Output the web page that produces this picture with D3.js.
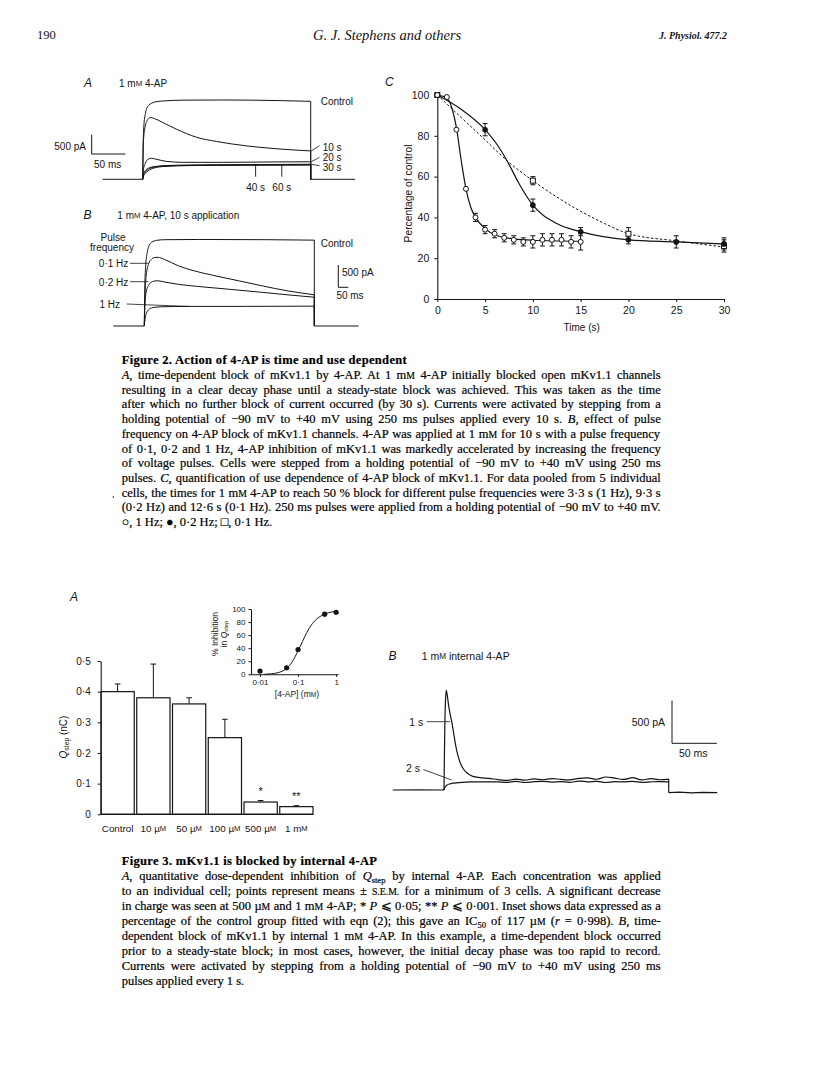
<!DOCTYPE html>
<html><head><meta charset="utf-8">
<script src="https://cdn.jsdelivr.net/npm/d3@7"></script>
<style>body{margin:0;background:#fff}svg{display:block}</style>
</head><body>
<svg id="page" width="816" height="1088"></svg>
<script>
// ================= DATA =================
// Fig 2A current traces: [time (ms from step onset), current (pA)]
const fig2A_control = [[0,0],[0.8,1000],[2,1450],[4,1700],[6,1840],[9,1920],[13,1970],[20,2010],[31,2030],[60,2050],[120,2055],[200,2040],[250,2020]];
const fig2A_10s = [[0,0],[1,950],[3,1300],[6,1500],[9,1580],[12,1600],[18,1570],[30,1470],[50,1300],[80,1090],[110,980],[155,865],[200,790],[250,735]];
const fig2A_20s = [[0,0],[1,250],[4,420],[8,520],[13,545],[20,520],[35,465],[60,440],[120,440],[200,450],[250,455]];
const fig2A_30s = [[0,0],[1,120],[4,230],[10,300],[20,335],[40,360],[100,375],[200,385],[250,390]];
const fig2A_40s = [[0,0],[1,100],[5,210],[12,290],[25,335],[60,360],[150,370],[250,375]];
const fig2A_60s = [[0,0],[1,80],[6,190],[15,280],[30,330],[70,355],[150,365],[250,370]];
const fig2A_labels = ["Control","10 s","20 s","30 s","40 s","60 s"];

// Fig 2B current traces
const fig2B_control = [[0,0],[0.8,900],[2,1350],[4,1620],[7,1800],[11,1880],[18,1920],[30,1935],[80,1940],[180,1935],[250,1925]];
const fig2B_01Hz = [[0,0],[1,700],[3,1150],[6,1380],[10,1490],[15,1535],[20,1540],[30,1490],[50,1350],[75,1230],[100,1140],[140,1010],[175,895],[210,790],[250,700]];
const fig2B_02Hz = [[0,0],[1,500],[3,780],[7,930],[12,995],[19,1015],[30,985],[50,935],[80,885],[120,830],[170,760],[210,700],[250,645]];
const fig2B_1Hz = [[0,0],[1,150],[3,280],[6,360],[12,410],[25,430],[60,440],[150,440],[250,445]];
const fig2B_labels = ["0·1 Hz","0·2 Hz","1 Hz"];

// Fig 2C: percentage of control vs time (s)
const fig2C_time1Hz = [0,1,2,3,4,5,6,7,8,9,10,11,12,13,14,15];
const fig2C_pct1Hz  = [100,99,83,54,40,34,32,30,29,28,28,29,29,29,28,28];
const fig2C_err1Hz  = [0,0,0,0,2,2,2,2,2,2,3,3,3,3,3,4];
const fig2C_time02Hz = [0,5,10,15,20,25,30];
const fig2C_pct02Hz  = [100,83,46,33,29,28,27];
const fig2C_err02Hz  = [0,3,3,2,2,3,3];
const fig2C_time01Hz = [0,10,20,30];
const fig2C_pct01Hz  = [100,58,32,26];
const fig2C_err01Hz  = [0,2,3,3];
// fitted curves: [time, %]
const fig2C_fit1Hz  = [[0,100],[1,98.5],[1.5,94],[2,84],[2.5,68],[3,54],[3.5,45],[4,40],[5,34.5],[6,31.5],[8,29.5],[10,28.8],[15,28.3]];
const fig2C_fit02Hz = [[0,100],[2.5,93],[5,83],[6.5,74],[7.5,66],[8.5,57],[10,46],[12.5,37],[15,33],[20,29],[25,28],[30,27]];
const fig2C_fit01Hz = [[0,100],[2.5,89],[5,78],[7.5,67],[10,58],[12.5,50],[15,43],[17.5,37],[20,32],[25,28.5],[30,25.5]];
const fig2C_xTicks = [0,5,10,15,20,25,30];
const fig2C_yTicks = [0,20,40,60,80,100];

// Fig 3A: Qstep (nC) by internal 4-AP concentration
const fig3A_categories = ["Control","10 µ{M}","50 µ{M}","100 µ{M}","500 µ{M}","1 m{M}"];
const fig3A_qstep = [0.40,0.38,0.36,0.25,0.04,0.025];
const fig3A_sem   = [0.025,0.11,0.02,0.06,0.005,0.003];
const fig3A_signif = ["","","","","*","**"];
const fig3A_yTicks = [0,0.1,0.2,0.3,0.4,0.5];
// Inset: % inhibition vs [4-AP] (mM)
const fig3Inset_conc = [0.01,0.05,0.1,0.5,1];
const fig3Inset_inhib = [5,10,38,92,95];
const fig3Inset_fit = [[0.013,0],[0.02,0.8],[0.03,2.5],[0.05,9],[0.07,19],[0.1,36],[0.13,50],[0.17,64],[0.22,75],[0.3,84],[0.45,91],[0.7,95],[1,96.5]];
const fig3Inset_xTicks = [0.01,0.1,1];
const fig3Inset_yTicks = [0,20,40,60,80,100];

// Fig 3B: currents with 1 mM internal 4-AP
const fig3B_1s_early = [[0,0],[0.6,500],[1.5,1000],[2.5,1170],[3.5,1120],[5,1000],[7,880],[8.6,800],[11,650],[14,470],[18,320],[22,240],[26,195],[32,160],[40,145],[50,135]];
const fig3B_2s_early = [[0,0],[1,30],[3,55],[6,70],[10,80],[20,90],[30,95],[50,96]];
const fig3B_plateauTime = [60,70,80,90,100,110,120,130,140,150,160,170,180,190,200,210,220,230,240,250];
const fig3B_1s_plateau = [122,112,128,116,130,120,134,124,118,136,142,126,152,138,124,144,118,134,120,128];
const fig3B_2s_plateau = [95,90,100,88,97,102,92,99,90,104,96,100,88,98,94,101,90,96,99,94];
const fig3B_tail = [[250,-30],[262,-26],[275,-34],[288,-28],[304,-31]];

// ================= DRAW =================
const svg = d3.select('#page');
svg.append('rect').attr('width',816).attr('height',1088).attr('fill','#fff');
const INK = '#141414';
const SANS = '"Liberation Sans", Arial, sans-serif';
const SERIF = '"Liberation Serif", "Times New Roman", serif';

function addRich(t, s, size) {
  const re = /(_[^_]+_|\{[^}]+\}|\^[^\^]+\^)/g;
  let pendingDy = 0;
  const add = () => { const ts = t.append('tspan'); if (pendingDy) { ts.attr('dy', pendingDy); pendingDy = 0; } return ts; };
  s.split(re).forEach(part => {
    if (!part) return;
    if (part.length > 2 && part[0] === '_' && part.endsWith('_')) {
      add().attr('font-style','italic').text(part.slice(1,-1));
    } else if (part[0] === '{' && part.endsWith('}')) {
      add().attr('font-size', size*0.78).text(part.slice(1,-1));
    } else if (part[0] === '^' && part.endsWith('^')) {
      const ts = add();
      ts.attr('font-size', size*0.68).attr('dy', (+ts.attr('dy') || 0) + size*0.28).text(part.slice(1,-1));
      pendingDy = -size*0.28;
    } else {
      add().text(part);
    }
  });
  return t;
}
function label(g, x, y, s, o = {}) {
  const size = o.size || 10;
  const t = g.append('text').attr('x', x).attr('y', y).attr('fill', INK)
    .attr('font-family', o.family || SANS).attr('font-size', size)
    .attr('text-anchor', o.anchor || 'start').attr('dominant-baseline', 'central');
  if (o.italic) t.attr('font-style', 'italic');
  if (o.weight) t.attr('font-weight', o.weight);
  if (o.rotate) t.attr('transform', `rotate(${o.rotate},${x},${y})`);
  addRich(t, s, size);
  return t;
}
function seg(g, x1, y1, x2, y2, w = 1) {
  g.append('line').attr('x1',x1).attr('y1',y1).attr('x2',x2).attr('y2',y2)
    .attr('stroke', INK).attr('stroke-width', w);
}
function styleAxis(a, size) {
  a.selectAll('path.domain').attr('stroke', INK).attr('stroke-width', 1.1);
  a.selectAll('.tick line').attr('stroke', INK).attr('stroke-width', 1);
  a.selectAll('.tick text').attr('fill', INK).attr('font-family', SANS).attr('font-size', size);
}
const dotFmt = d => d === 0 ? '0' : String(d).replace('.', '·');

// ---------- header ----------
label(svg, 37, 35, '190', {family: SERIF, size: 12.5});
label(svg, 313, 35, 'G. J. Stephens and others', {family: SERIF, size: 14.5, italic: true});
label(svg, 659, 35, 'J. Physiol. 477.2', {family: SERIF, size: 10, italic: true, weight: 'bold'});

// ---------- Figure 2 A ----------
const gA = svg.append('g');
const xA = d3.scaleLinear().domain([0, 250]).range([142.7, 310.7]);
const yA = d3.scaleLinear().domain([0, 500]).range([179.3, 160]);
function drawTraces(g, x, y, traces, pre, post, w) {
  const lineM = d3.line().x(d => x(d[0])).y(d => y(d[1])).curve(d3.curveMonotoneX);
  const lineL = d3.line().x(d => x(d[0])).y(d => y(d[1]));
  g.append('path').attr('d', lineL([[pre,0],[0,0]])).attr('fill','none').attr('stroke',INK).attr('stroke-width',w);
  traces.forEach(tr => {
    g.append('path').attr('d', lineM(tr)).attr('fill','none').attr('stroke',INK).attr('stroke-width',w);
    const last = tr[tr.length-1];
    g.append('path').attr('d', lineL([last,[last[0],0]])).attr('fill','none').attr('stroke',INK).attr('stroke-width',w);
  });
  g.append('path').attr('d', lineL([[250,0],[post,0]])).attr('fill','none').attr('stroke',INK).attr('stroke-width',w);
}
drawTraces(gA, xA, yA, [fig2A_control, fig2A_10s, fig2A_20s, fig2A_30s, fig2A_40s, fig2A_60s], -59.6, 316, 1);
label(gA, 84, 83, 'A', {size: 12, italic: true});
label(gA, 119, 83, '1 m{M} 4-AP', {size: 10});
label(gA, 320.7, 100.7, fig2A_labels[0], {size: 10});
label(gA, 322.7, 146.7, fig2A_labels[1], {size: 10});
label(gA, 322.7, 156.7, fig2A_labels[2], {size: 10});
label(gA, 322.7, 166.7, fig2A_labels[3], {size: 10});
seg(gA, xA(250)+0.5, yA(735), 319.5, 145.7, 0.8);
seg(gA, xA(250)+0.5, yA(455), 319.5, 157.3, 0.8);
seg(gA, xA(250)+0.5, yA(390), 319.5, 165.7, 0.8);
seg(gA, xA(168), yA(380), xA(168), 176.7, 0.9);
seg(gA, xA(207), yA(380), xA(207), 176.7, 0.9);
label(gA, xA(168), 186.7, fig2A_labels[4], {size: 10, anchor: 'middle'});
label(gA, xA(207), 186.7, fig2A_labels[5], {size: 10, anchor: 'middle'});
{
  const bx = 91.7, by = 154;
  seg(gA, bx, by, bx, by - (yA(0) - yA(500)), 1);
  seg(gA, bx, by, bx + (xA(50) - xA(0)), by, 1);
  label(gA, 86, 146, '500 pA', {size: 10, anchor: 'end'});
  label(gA, 94, 164, '50 ms', {size: 10});
}

// ---------- Figure 2 B ----------
const gB = svg.append('g');
const xB = d3.scaleLinear().domain([0, 250]).range([144.3, 314.3]);
const yB = d3.scaleLinear().domain([0, 500]).range([326, 303.7]);
drawTraces(gB, xB, yB, [fig2B_control, fig2B_01Hz, fig2B_02Hz, fig2B_1Hz], -45.6, 315, 1);
label(gB, 83.5, 215, 'B', {size: 12, italic: true});
label(gB, 117.3, 215, '1 m{M} 4-AP, 10 s application', {size: 10});
label(gB, 113, 236.7, 'Pulse', {size: 10, anchor: 'middle'});
label(gB, 112, 247, 'frequency', {size: 10, anchor: 'middle'});
label(gB, 320.7, 242.7, 'Control', {size: 10});
label(gB, 128.3, 263.3, fig2B_labels[0], {size: 10, anchor: 'end'});
label(gB, 128.3, 281.7, fig2B_labels[1], {size: 10, anchor: 'end'});
label(gB, 120, 304, fig2B_labels[2], {size: 10, anchor: 'end'});
seg(gB, 130, 263.3, 148.3, 263.3, 0.8);
seg(gB, 130, 281.7, 148.3, 281.7, 0.8);
seg(gB, 126.7, 304, 190, 306.5, 0.8);
{
  const bx = 338.3, by = 287.3;
  seg(gB, bx, by, bx, by - (yB(0) - yB(500)), 1);
  seg(gB, bx, by, bx + 10, by, 1);
  label(gB, 342, 271.7, '500 pA', {size: 10});
  label(gB, 350, 294.5, '50 ms', {size: 10, anchor: 'middle'});
}

// ---------- Figure 2 C ----------
const gC = svg.append('g');
const xC = d3.scaleLinear().domain([0, 30]).range([437.3, 724]);
const yC = d3.scaleLinear().domain([0, 100]).range([299, 95]);
const axCx = gC.append('g').attr('transform', `translate(0,${yC(0)})`)
  .call(d3.axisBottom(xC).tickValues(fig2C_xTicks).tickSize(3).tickSizeOuter(0).tickPadding(5));
const axCy = gC.append('g').attr('transform', `translate(${xC(0)},0)`)
  .call(d3.axisLeft(yC).tickValues(fig2C_yTicks).tickSize(3).tickSizeOuter(0).tickPadding(5));
styleAxis(axCx, 10.5); styleAxis(axCy, 10.5);
label(gC, 385, 82, 'C', {size: 12, italic: true});
label(gC, 581.7, 327, 'Time (s)', {size: 10, anchor: 'middle'});
label(gC, 408.3, 193.5, 'Percentage of control', {size: 10.3, anchor: 'middle', rotate: -90});
const fitLine = d3.line().x(d => xC(d[0])).y(d => yC(d[1])).curve(d3.curveMonotoneX);
gC.append('path').attr('d', fitLine(fig2C_fit01Hz)).attr('fill','none').attr('stroke',INK).attr('stroke-width',1).attr('stroke-dasharray','2.5,2');
gC.append('path').attr('d', fitLine(fig2C_fit02Hz)).attr('fill','none').attr('stroke',INK).attr('stroke-width',1.2);
gC.append('path').attr('d', fitLine(fig2C_fit1Hz)).attr('fill','none').attr('stroke',INK).attr('stroke-width',1.2);
function errBars(g, xs, ts, vs, es) {
  ts.forEach((t, i) => {
    if (!es[i]) return;
    const x = xs(t);
    seg(g, x, yC(vs[i] - es[i]), x, yC(vs[i] + es[i]), 1);
    seg(g, x - 2.5, yC(vs[i] + es[i]), x + 2.5, yC(vs[i] + es[i]), 1);
    seg(g, x - 2.5, yC(vs[i] - es[i]), x + 2.5, yC(vs[i] - es[i]), 1);
  });
}
errBars(gC, xC, fig2C_time01Hz, fig2C_pct01Hz, fig2C_err01Hz);
errBars(gC, xC, fig2C_time02Hz, fig2C_pct02Hz, fig2C_err02Hz);
errBars(gC, xC, fig2C_time1Hz, fig2C_pct1Hz, fig2C_err1Hz);
gC.selectAll('rect.sq').data(fig2C_time01Hz).enter().append('rect')
  .attr('x', d => xC(d) - 2.5).attr('y', (d, i) => yC(fig2C_pct01Hz[i]) - 2.5)
  .attr('width', 5).attr('height', 5).attr('fill', '#fff').attr('stroke', INK).attr('stroke-width', 1);
gC.selectAll('circle.f').data(fig2C_time02Hz).enter().append('circle')
  .attr('cx', d => xC(d)).attr('cy', (d, i) => yC(fig2C_pct02Hz[i])).attr('r', 2.8).attr('fill', INK);
gC.selectAll('circle.o').data(fig2C_time1Hz).enter().append('circle')
  .attr('cx', d => xC(d)).attr('cy', (d, i) => yC(fig2C_pct1Hz[i])).attr('r', 2.5)
  .attr('fill', '#fff').attr('stroke', INK).attr('stroke-width', 1);

// ---------- captions ----------
let titleScale = null;
function caption(lines, x0, x1, yStart, step, justified) {
  const g = svg.append('g');
  lines.forEach((s, i) => {
    const t = g.append('text').attr('x', x0).attr('y', yStart + i * step).attr('fill', '#000')
      .attr('stroke', '#000').attr('stroke-width', 0.2)
      .attr('font-family', SERIF).attr('font-size', 12.5).attr('dominant-baseline', 'central');
    if (i === 0) t.attr('font-weight', 'bold');
    addRich(t, s, 12.5);
    if (i === 0) {
      const w = t.node().getComputedTextLength();
      if (titleScale === null) titleScale = 285 / w;   // Fig 2 title spans 121.7 -> 406.7
      t.attr('textLength', w * titleScale).attr('lengthAdjust', 'spacing');
    }
    if (justified[i]) {
      const plain = s.replace(/[_{}\^]/g, '');
      const n = (plain.match(/ /g) || []).length;
      const len = t.node().getComputedTextLength();
      if (n > 0) t.attr('word-spacing', ((x1 - x0) - len) / n);
      const len2 = t.node().getComputedTextLength();
      if (Math.abs(len2 - (x1 - x0)) > 2) t.attr('word-spacing', null).attr('textLength', x1 - x0).attr('lengthAdjust', 'spacing');
    }
  });
}
const fig2Caption = [
  "Figure 2. Action of 4-AP is time and use dependent",
  "_A_, time-dependent block of mKv1.1 by 4-AP. At 1 m{M} 4-AP initially blocked open mKv1.1 channels",
  "resulting in a clear decay phase until a steady-state block was achieved. This was taken as the time",
  "after which no further block of current occurred (by 30 s). Currents were activated by stepping from a",
  "holding potential of −90 mV to +40 mV using 250 ms pulses applied every 10 s. _B_, effect of pulse",
  "frequency on 4-AP block of mKv1.1 channels.  4-AP was applied at 1 m{M} for 10 s with a pulse frequency",
  "of 0·1, 0·2 and 1 Hz, 4-AP inhibition of mKv1.1 was markedly accelerated by increasing the frequency",
  "of voltage pulses. Cells were stepped from a holding potential of −90 mV to +40 mV using 250 ms",
  "pulses. _C_, quantification of use dependence of 4-AP block of mKv1.1. For data pooled from 5 individual",
  "cells, the times for 1 m{M} 4-AP to reach 50 % block for different pulse frequencies were 3·3 s (1 Hz), 9·3 s",
  "(0·2 Hz) and 12·6 s (0·1 Hz). 250 ms pulses were applied from a holding potential of −90 mV to +40 mV.",
  "○, 1 Hz; ●, 0·2 Hz; □, 0·1 Hz."
];
caption(fig2Caption, 121.7, 660.7, 360.3, 14.7, [0,1,1,1,1,1,1,1,1,1,1,0]);
svg.append('circle').attr('cx', 113.3).attr('cy', 497).attr('r', 0.8).attr('fill', INK);

const fig3Caption = [
  "Figure 3. mKv1.1 is blocked by internal 4-AP",
  "_A_, quantitative dose-dependent inhibition of _Q_^step^ by internal 4-AP. Each concentration was applied",
  "to an individual cell; points represent means ± {S.E.M.} for a minimum of 3 cells. A significant decrease",
  "in charge was seen at 500 µ{M} and 1 m{M} 4-AP; * _P_ ⩽ 0·05; ** _P_ ⩽ 0·001. Inset shows data expressed as a",
  "percentage of the control group fitted with eqn (2); this gave an IC^50^ of 117 µ{M} (_r_ = 0·998). _B_, time-",
  "dependent block of mKv1.1 by internal 1 m{M} 4-AP. In this example, a time-dependent block occurred",
  "prior to a steady-state block; in most cases, however, the initial decay phase was too rapid to record.",
  "Currents were activated by stepping from a holding potential of −90 mV to +40 mV using 250 ms",
  "pulses applied every 1 s."
];
caption(fig3Caption, 121.7, 660.7, 861, 15, [0,1,1,1,1,1,1,1,0]);

// ---------- Figure 3 A ----------
const g3 = svg.append('g');
const xBar = d3.scaleBand().domain(fig3A_categories).range([101, 313]).paddingInner(0.07).paddingOuter(0);
const yBar = d3.scaleLinear().domain([0, 0.5]).range([814.3, 661]);
g3.selectAll('rect.bar').data(fig3A_categories).enter().append('rect')
  .attr('x', d => xBar(d)).attr('width', xBar.bandwidth())
  .attr('y', (d, i) => yBar(fig3A_qstep[i])).attr('height', (d, i) => yBar(0) - yBar(fig3A_qstep[i]))
  .attr('fill', '#fff').attr('stroke', INK).attr('stroke-width', 1.2);
fig3A_categories.forEach((c, i) => {
  const cx = xBar(c) + xBar.bandwidth() / 2;
  const top = yBar(fig3A_qstep[i] + fig3A_sem[i]);
  seg(g3, cx, yBar(fig3A_qstep[i]), cx, top, 1);
  seg(g3, cx - 2.8, top, cx + 2.8, top, 1);
  if (fig3A_signif[i]) label(g3, cx, yBar(fig3A_qstep[i] + fig3A_sem[i]) - 10, fig3A_signif[i], {size: 11, anchor: 'middle'});
  label(g3, cx, 828, c, {size: 9.8, anchor: 'middle'});
});
const ax3y = g3.append('g').attr('transform', 'translate(100.7,0)')
  .call(d3.axisLeft(yBar).tickValues(fig3A_yTicks).tickSize(3).tickSizeOuter(0).tickPadding(7).tickFormat(d => d === 0 ? '0' : d.toFixed(1).replace('.', '·')));
styleAxis(ax3y, 10);
seg(g3, 100.7, yBar(0), 313, yBar(0), 1.2);
label(g3, 70, 597, 'A', {size: 12, italic: true});
label(g3, 63, 737, '_Q_^step^ (nC)', {size: 10, anchor: 'middle', rotate: -90});

// inset
const gi = svg.append('g');
const xIn = d3.scaleLog().domain([0.0058, 1.12]).range([251, 338]);
const yIn = d3.scaleLinear().domain([0, 100]).range([674.3, 609]);
const axIx = gi.append('g').attr('transform', `translate(0,${yIn(0)})`)
  .call(d3.axisBottom(xIn).tickValues(fig3Inset_xTicks).tickSize(2.5).tickSizeOuter(0).tickPadding(3).tickFormat(dotFmt));
const axIy = gi.append('g').attr('transform', `translate(251,0)`)
  .call(d3.axisLeft(yIn).tickValues(fig3Inset_yTicks).tickSize(2.5).tickSizeOuter(0).tickPadding(3));
styleAxis(axIx, 8); styleAxis(axIy, 8);
gi.append('path').attr('d', d3.line().x(d => xIn(d[0])).y(d => yIn(d[1])).curve(d3.curveMonotoneX)(fig3Inset_fit))
  .attr('fill', 'none').attr('stroke', INK).attr('stroke-width', 1);
gi.selectAll('circle').data(fig3Inset_conc).enter().append('circle')
  .attr('cx', d => xIn(d)).attr('cy', (d, i) => yIn(fig3Inset_inhib[i])).attr('r', 2.6).attr('fill', INK);
label(gi, 297, 693.5, '[4-AP] (m{M})', {size: 8.5, anchor: 'middle'});
label(gi, 215, 634, '% Inhibition', {size: 8.5, anchor: 'middle', rotate: -90});
label(gi, 224, 634, 'in _Q_^step^', {size: 8.5, anchor: 'middle', rotate: -90});

// ---------- Figure 3 B ----------
const gB3 = svg.append('g');
const x3B = d3.scaleLinear().domain([0, 250]).range([444, 668.7]);
const y3B = d3.scaleLinear().domain([0, 500]).range([790, 747.3]);
{
  const lineL = d3.line().x(d => x3B(d[0])).y(d => y3B(d[1]));
  const st = p => p.attr('fill', 'none').attr('stroke', INK).attr('stroke-width', 1.2);
  st(gB3.append('path').attr('d', lineL([[-57, 0], [-30, 1], [0, 0]])));
  const tr1 = fig3B_1s_early.concat(fig3B_plateauTime.map((t, i) => [t, fig3B_1s_plateau[i]]));
  const tr2 = fig3B_2s_early.concat(fig3B_plateauTime.map((t, i) => [t, fig3B_2s_plateau[i]]));
  st(gB3.append('path').attr('d', d3.line().x(d => x3B(d[0])).y(d => y3B(d[1])).curve(d3.curveCatmullRom)(tr1)));
  st(gB3.append('path').attr('d', d3.line().x(d => x3B(d[0])).y(d => y3B(d[1])).curve(d3.curveCatmullRom)(tr2)));
  st(gB3.append('path').attr('d', lineL([[250, fig3B_1s_plateau[fig3B_1s_plateau.length - 1]], [250, -30]])));
  st(gB3.append('path').attr('d', lineL(fig3B_tail)));
}
label(gB3, 388.5, 656, 'B', {size: 12, italic: true});
label(gB3, 421.7, 656, '1 m{M} internal 4-AP', {size: 10.5});
label(gB3, 423.3, 721.7, '1 s', {size: 10.5, anchor: 'end'});
seg(gB3, 426.7, 721.7, 450, 721.7, 0.8);
label(gB3, 420, 768.3, '2 s', {size: 10.5, anchor: 'end'});
seg(gB3, 423.3, 769.5, 451.7, 780, 0.8);
{
  const bx = 672, by = 743.3;
  seg(gB3, bx, by, bx, by - (y3B(0) - y3B(500)), 1);
  seg(gB3, bx, by, bx + (x3B(50) - x3B(0)), by, 1);
  label(gB3, 665, 721.7, '500 pA', {size: 10.5, anchor: 'end'});
  label(gB3, 693.3, 752.7, '50 ms', {size: 10.5, anchor: 'middle'});
}
</script>
</body></html>
